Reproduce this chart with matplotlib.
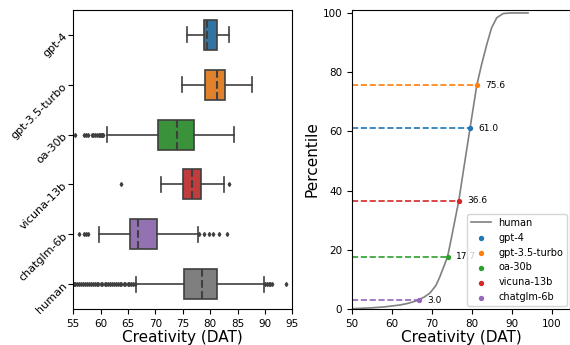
import matplotlib.pyplot as plt

modelos = ['gpt-4', 'gpt-3.5-turbo', 'oa-30b', 'vicuna-13b', 'chatglm-6b', 'human']
cores_caixa = ['#3274a1', '#e1812c', '#3a923a', '#c03d3e', '#9372b2', '#7f7f7f']
cores_ponto = ['#1f77b4', '#ff7f0e', '#2ca02c', '#d62728', '#9467bd']

# estatisticas (DAT)
q1 = [78.9, 79.05, 70.5, 75.1, 65.3, 75.2]
mediana = [79.5, 81.25, 73.9, 76.7, 66.75, 78.5]
q3 = [81.2, 82.65, 77.1, 78.3, 70.2, 81.2]
bigode_min = [75.8, 74.9, 61.1, 71.1, 59.7, 66.45]
bigode_max = [83.4, 87.6, 84.35, 82.5, 77.7, 89.9]
outliers = [
    [],
    [],
    [55.25, 57.0, 57.3, 57.6, 58.4, 58.65, 58.96, 59.4, 59.7, 59.9, 60.05, 60.3, 60.5],
    [63.8, 83.5],
    [56.0, 57.0, 57.3, 57.7, 78.0, 78.8, 79.8, 80.6, 81.6, 83.0],
    [55.1, 55.4, 55.7, 56.0, 56.4, 56.8, 57.1, 57.5, 57.9, 58.2, 58.6, 58.9, 59.3,
     59.6, 60.0, 60.3, 60.7, 61.0, 61.4, 61.7, 62.1, 62.4, 62.8, 63.1, 63.5, 63.8,
     64.2, 64.5, 64.9, 65.2, 65.6, 65.9, 66.2, 90.1, 90.4, 90.7, 91.0, 91.3, 93.8],
]

# percentil da mediana de cada modelo na distribuicao humana
percentis = [61.0, 75.6, 17.7, 36.6, 3.0]

# curva acumulada dos humanos
humano_x = [50, 55, 58, 62, 64, 66.2, 68, 69.5, 71, 72, 73, 73.9, 75, 76.7, 78,
            79.5, 81.2, 82.4, 83.7, 84.9, 86.2, 87.8, 89.5, 91, 94]
humano_y = [0.1, 0.4, 0.7, 1.35, 1.9, 2.8, 4.0, 5.4, 8.0, 11, 14.5, 17.7, 25, 36.6, 48,
            61, 75.6, 82.6, 89.4, 95, 98.4, 99.8, 100, 100, 100]

fig = plt.figure(figsize=(5.7, 3.45), dpi=100)
ax1 = fig.add_axes([73.3 / 570, 36 / 345, 219 / 570, 299 / 345])
ax2 = fig.add_axes([352 / 570, 36 / 345, 218 / 570, 299 / 345])

cinza = '#3f3f3f'
stats = []
for i, nome in enumerate(modelos):
    stats.append({'label': nome, 'med': mediana[i], 'q1': q1[i], 'q3': q3[i],
                  'whislo': bigode_min[i], 'whishi': bigode_max[i], 'fliers': outliers[i]})

caixas = ax1.bxp(stats, positions=range(len(modelos)), vert=False, widths=0.6,
                 patch_artist=True,
                 boxprops=dict(edgecolor=cinza, linewidth=1.2),
                 whiskerprops=dict(color=cinza, linewidth=1.2),
                 capprops=dict(color=cinza, linewidth=1.2),
                 medianprops=dict(color=cinza, linewidth=1.5, linestyle='--'),
                 flierprops=dict(marker='d', markersize=2, markerfacecolor=cinza,
                                 markeredgecolor=cinza, linestyle='none'))
for caixa, cor in zip(caixas['boxes'], cores_caixa):
    caixa.set_facecolor(cor)

ax1.set_xlim(55, 95)
ax1.set_ylim(5.5, -0.5)
ax1.set_xticks(range(55, 96, 5))
ax1.set_yticks(range(len(modelos)))
ax1.set_yticklabels(modelos, rotation=45, ha='right', va='center',
                    rotation_mode='anchor', fontsize=8)
ax1.tick_params(axis='y', pad=2)
ax1.tick_params(axis='x', labelsize=7.5)
ax1.set_xlabel('Creativity (DAT)', fontsize=11, labelpad=1)

ax2.plot(humano_x, humano_y, color='#808080', linewidth=1.2, label='human')
for i in range(5):
    ax2.plot([50, mediana[i]], [percentis[i], percentis[i]], '--', color=cores_ponto[i], linewidth=1.2)
    ax2.scatter([mediana[i]], [percentis[i]], color=cores_ponto[i], s=8, zorder=3, label=modelos[i])
    ax2.text(mediana[i] + 2, percentis[i], f'{percentis[i]:.1f}', fontsize=6.5, va='center')

ax2.set_xlim(50, 104.5)
ax2.set_ylim(0, 101)
ax2.set_xticks(range(50, 101, 10))
ax2.set_yticks(range(0, 101, 20))
ax2.tick_params(labelsize=7.5)
ax2.set_xlabel('Creativity (DAT)', fontsize=11, labelpad=1)
ax2.set_ylabel('Percentile', fontsize=11, labelpad=2)
ax2.legend(loc='lower right', fontsize=7, borderaxespad=0.3)

fig.savefig('out.png', dpi=100)
